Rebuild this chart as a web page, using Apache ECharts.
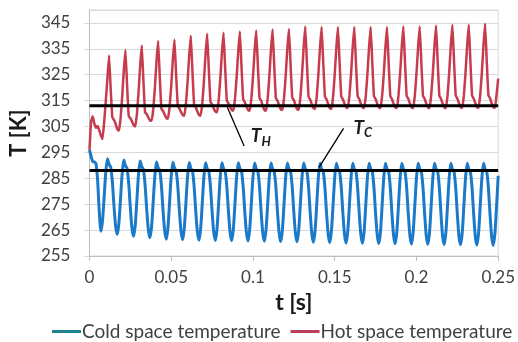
<!DOCTYPE html>
<html>
<head>
<meta charset="utf-8">
<script src="https://cdn.jsdelivr.net/npm/echarts@6/dist/echarts.min.js"></script>
<style>
html,body{margin:0;padding:0;background:#fff;}
#chart{width:518px;height:342px;}
</style>
</head>
<body>
<div id="chart"></div>
<script>
const sampleStep = 0.001;

// Hot space temperature [K], one value per sample from t = 0
const hotTemps = [
296, 307, 309, 306, 304.5, 305.2, 303.5, 301.5, 300.2, 307, 315, 324, 332.4,
319, 308.5, 307.5, 306, 304, 303.4, 308, 316.5, 326.8, 334.6,
321, 309, 308.2, 307, 305.6, 305, 309.7, 318.1, 328.5, 336.3,
322.5, 310.5, 309.8, 308.5, 307.4, 307.2, 311.5, 320, 330.3, 338,
324, 311.8, 311, 309.6, 308.3, 308, 312.5, 320.8, 330.9, 338.5,
325, 313, 312, 310.6, 309.5, 309.2, 313.8, 322.2, 332.4, 340.1,
326, 313.5, 312.5, 310.8, 309.5, 309.2, 313.9, 322.5, 332.9, 340.8,
327, 314.5, 313.5, 312, 310.8, 310.5, 315, 323.4, 333.5, 341.2,
327.5, 315, 314, 312.6, 311.4, 311.1, 315.6, 324, 334, 341.7,
328, 315.5, 314.5, 312.8, 311.4, 311.1, 315.7, 324.1, 334.4, 342.1,
328.5, 316, 315, 313, 311.4, 311.1, 315.8, 324.3, 334.7, 342.5,
328.7, 316, 315, 313.2, 311.7, 311.4, 316, 324.5, 334.9, 342.7,
329, 316.2, 315.2, 313.3, 311.7, 311.4, 316.2, 325, 335.6, 343.6,
329.5, 316.5, 315.4, 313.6, 312.1, 311.8, 316.5, 325.1, 335.5, 343.4,
329.4, 316.6, 315.5, 313.7, 312.1, 311.8, 316.5, 325.1, 335.5, 343.4,
329.4, 316.6, 315.5, 313.8, 312.5, 312.2, 316.9, 325.3, 335.6, 343.4,
329.5, 316.7, 315.6, 313.8, 312.4, 312.1, 316.8, 325.2, 335.5, 343.4,
329.5, 316.7, 315.6, 313.8, 312.4, 312.1, 316.8, 325.2, 335.5, 343.4,
329.5, 316.7, 315.6, 313.8, 312.4, 312.1, 316.9, 325.3, 335.7, 343.6,
329.6, 316.8, 315.7, 313.9, 312.4, 312.1, 316.9, 325.3, 335.7, 343.6,
329.6, 316.8, 315.7, 313.9, 312.4, 312.1, 317, 325.5, 336, 344,
329.8, 316.9, 315.7, 313.9, 312.4, 312.1, 317, 325.6, 336.2, 344.3,
330, 317, 315.8, 314, 312.5, 312.2, 317, 325.7, 336.2, 344.3,
330, 317, 315.8, 314, 312.5, 312.2, 317.1, 325.8, 336.5, 344.7,
330.2, 317.1, 315.9, 314, 312.5, 312.2, 317.2, 323.5
];

// Cold space temperature [K], one value per sample from t = 0
const coldTemps = [
296, 293.5, 291.5, 291.3, 290.6, 284, 272, 264.6,
268.8, 278.0, 287.6, 292.6, 290.4, 289.3, 283.6, 274.3, 266.5, 263.4,
267.7, 277.2, 286.9, 292.1, 289.9, 288.8, 283.0, 273.6, 265.7, 262.6,
267.0, 276.6, 286.5, 291.7, 289.5, 288.4, 282.6, 273.1, 265.2, 262.0,
266.4, 276.1, 286.0, 291.3, 289.1, 288.0, 282.2, 272.6, 264.7, 261.5,
266.0, 275.8, 285.9, 291.2, 289.0, 287.9, 282.0, 272.5, 264.5, 261.3,
265.8, 275.6, 285.7, 291.1, 288.9, 287.8, 281.9, 272.3, 264.3, 261.1,
265.6, 275.5, 285.6, 291.0, 288.8, 287.7, 281.8, 272.2, 264.2, 261.0,
265.5, 275.4, 285.6, 291.0, 288.8, 287.7, 281.8, 272.2, 264.1, 260.9,
265.4, 275.3, 285.6, 291.0, 288.8, 287.7, 281.8, 272.1, 264.0, 260.8,
265.3, 275.3, 285.5, 290.9, 288.7, 287.6, 281.7, 272.0, 263.9, 260.7,
265.2, 275.2, 285.5, 290.9, 288.7, 287.6, 281.7, 271.9, 263.8, 260.6,
265.1, 275.1, 285.4, 290.9, 288.7, 287.6, 281.7, 271.9, 263.7, 260.5,
265.1, 275.0, 285.4, 290.9, 288.7, 287.6, 281.6, 271.8, 263.6, 260.3,
264.9, 274.9, 285.3, 290.8, 288.6, 287.5, 281.5, 271.7, 263.5, 260.2,
264.8, 274.8, 285.2, 290.8, 288.6, 287.5, 281.5, 271.6, 263.4, 260.0,
264.6, 274.8, 285.3, 290.8, 288.6, 287.5, 281.4, 271.5, 263.2, 259.9,
264.5, 274.7, 285.2, 290.8, 288.6, 287.5, 281.4, 271.4, 263.1, 259.8,
264.4, 274.6, 285.2, 290.8, 288.6, 287.5, 281.4, 271.4, 263.0, 259.7,
264.3, 274.6, 285.1, 290.8, 288.6, 287.5, 281.4, 271.3, 262.9, 259.6,
264.3, 274.5, 285.1, 290.8, 288.6, 287.5, 281.3, 271.3, 262.8, 259.5,
264.2, 274.5, 285.1, 290.8, 288.6, 287.5, 281.3, 271.2, 262.7, 259.4,
264.1, 274.4, 285.1, 290.8, 288.6, 287.5, 281.3, 271.2, 262.6, 259.3,
264.0, 274.4, 285.0, 290.8, 288.6, 287.5, 281.3, 271.1, 262.5, 259.2,
263.9, 274.3, 285.0, 290.8, 288.6, 287.5, 281.3, 271.1, 262.4, 259.1,
263.8, 274.3, 286.0
];

// mean temperature levels [K]
const hotMean = 313;
const coldMean = 288;

// x extent [s] and y axis ticks [K]
const timeRange = [0, 0.25];
const timeTickStep = 0.05;
const tempMin = 255, tempMax = 350, tempTickStep = 10;

// annotation anchors (data coordinates): [label position], [arrow start], [arrow tip]
const hotLabelAt = [0.1048, 301.2];
const hotArrow = [[0.0946, 297.5], [0.0843, 312.4]];
const coldLabelAt = [0.1672, 304.6];
const coldArrow = [[0.1554, 304.3], [0.1404, 289.2]];

const seriesNames = ['Cold space temperature', 'Hot space temperature'];

const toPairs = arr => arr.map((v, i) => [i * sampleStep, v]);

const FONT = 'Lato';
const chart = echarts.init(document.getElementById('chart'), null, {renderer: 'canvas'});

const labelRich = {
  t: {fontFamily: FONT, fontSize: 19, fontWeight: 'bold', fontStyle: 'italic', color: '#1a1a1a'},
  s: {fontFamily: FONT, fontSize: 13, fontWeight: 'bold', fontStyle: 'italic', color: '#1a1a1a', verticalAlign: 'bottom', padding: [10, 0, 0, 0]}
};

chart.setOption({
  animation: false,
  backgroundColor: '#ffffff',
  textStyle: {fontFamily: FONT},
  grid: {left: 85, right: 18, top: 10, bottom: 86, show: true, borderColor: '#d9d9d9', borderWidth: 1},
  legend: {
    data: [
      {name: seriesNames[0], itemStyle: {color: '#1c8290'}},
      {name: seriesNames[1], itemStyle: {color: '#b8405d'}}
    ],
    icon: 'rect', itemWidth: 29, itemHeight: 3, itemGap: 10,
    left: 47, top: 317,
    textStyle: {fontFamily: FONT, fontSize: 19, color: '#404040', padding: [0, 0, 0, -4]}
  },
  xAxis: {
    type: 'value', min: timeRange[0], max: timeRange[1], interval: timeTickStep,
    name: 't [s]', nameLocation: 'middle', nameGap: 31,
    nameTextStyle: {fontFamily: FONT, fontSize: 23, fontWeight: 'bold', color: '#1a1a1a'},
    axisLine: {show: true, lineStyle: {color: '#bfbfbf', width: 1}},
    axisTick: {show: true, length: 5, lineStyle: {color: '#bfbfbf'}},
    axisLabel: {fontFamily: FONT, fontSize: 17, color: '#404040', margin: 13},
    splitLine: {show: false}
  },
  yAxis: {
    type: 'value', min: tempMin, max: tempMax, interval: tempTickStep,
    name: 'T [K]', nameLocation: 'middle', nameGap: 58, nameRotate: 90,
    nameTextStyle: {fontFamily: FONT, fontSize: 22, fontWeight: 'bold', color: '#1a1a1a'},
    axisLine: {show: true, lineStyle: {color: '#bfbfbf', width: 1}},
    axisTick: {show: true, length: 5, lineStyle: {color: '#d9d9d9'}},
    axisLabel: {fontFamily: FONT, fontSize: 17, color: '#404040', margin: 19, showMaxLabel: false},
    splitLine: {show: true, lineStyle: {color: '#d9d9d9', width: 1}}
  },
  series: [
    {
      name: seriesNames[0], type: 'line', data: toPairs(coldTemps),
      showSymbol: false, smooth: 0.25, z: 2,
      lineStyle: {color: '#1a79c9', width: 3}, itemStyle: {color: '#1a79c9'}
    },
    {
      name: seriesNames[1], type: 'line', data: toPairs(hotTemps),
      showSymbol: false, smooth: 0.1, z: 3,
      lineStyle: {color: '#c63c4c', width: 2.5}, itemStyle: {color: '#c63c4c'}
    },
    {
      name: 'TH', type: 'line', data: [[timeRange[0], hotMean], [timeRange[1], hotMean]],
      showSymbol: false, z: 5, silent: true,
      lineStyle: {color: '#000', width: 3},
      markLine: {
        silent: true, symbol: ['none', 'arrow'], symbolSize: [0, 8], precision: 4,
        lineStyle: {color: '#000', width: 1.3, type: 'solid'}, label: {show: false},
        data: [[{coord: hotArrow[0]}, {coord: hotArrow[1]}]]
      },
      markPoint: {
        silent: true, symbol: 'circle', symbolSize: 1, itemStyle: {color: 'rgba(0,0,0,0)'},
        label: {show: true, position: 'inside', formatter: '{t|T}{s|H}', rich: labelRich},
        data: [{coord: hotLabelAt}]
      }
    },
    {
      name: 'TC', type: 'line', data: [[timeRange[0], coldMean], [timeRange[1], coldMean]],
      showSymbol: false, z: 5, silent: true,
      lineStyle: {color: '#000', width: 3},
      markLine: {
        silent: true, symbol: ['none', 'arrow'], symbolSize: [0, 8], precision: 4,
        lineStyle: {color: '#000', width: 1.3, type: 'solid'}, label: {show: false},
        data: [[{coord: coldArrow[0]}, {coord: coldArrow[1]}]]
      },
      markPoint: {
        silent: true, symbol: 'circle', symbolSize: 1, itemStyle: {color: 'rgba(0,0,0,0)'},
        label: {show: true, position: 'inside', formatter: '{t|T}{s|C}', rich: labelRich},
        data: [{coord: coldLabelAt}]
      }
    }
  ]
});
</script>
</body>
</html>
